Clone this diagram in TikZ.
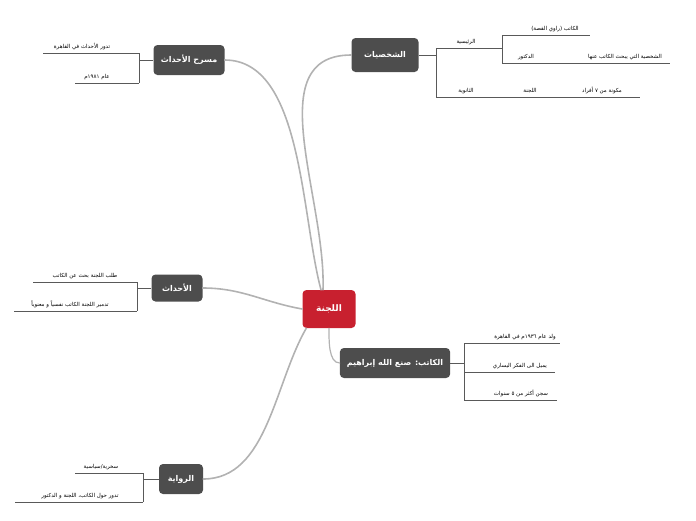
\documentclass[tikz,border=0pt]{standalone}
\usepackage{fontspec}
\setmainfont{DejaVu Sans}
\newfontfamily\arabicfont[Script=Arabic]{DejaVu Sans}
\TeXXeTstate=1
\newcommand{\ar}[1]{\arabicfont\beginR #1\endR}
\definecolor{boxgray}{HTML}{4D4D4D}
\definecolor{cred}{HTML}{C8202F}
\begin{document}
\begin{tikzpicture}[x=1pt,y=-1pt,
  topic/.style={draw=none,fill=boxgray,rounded corners=4pt,text=white,font=\arabicfont\fontsize{8}{9}\selectfont\bfseries,minimum height=28pt,inner xsep=7pt,drop shadow/.try},
  leaf/.style={font=\fontsize{5.5}{6.5}\selectfont,inner sep=1pt,anchor=south},
  ln/.style={draw=gray!70!black,line width=0.6pt},
  br/.style={draw=gray!60,line width=1.6pt,line cap=round}]
\useasboundingbox (0,0) rectangle (696,520);
% center and topics
\node[topic,fill=cred,minimum width=53pt,minimum height=38pt,font=\arabicfont\fontsize{9}{10}\selectfont\bfseries] (c) at (329,309) {\ar{اللجنة}};
\node[topic,minimum width=67pt,minimum height=34pt] (shakh) at (385,55) {\ar{الشخصيات}};
\node[topic,minimum width=71pt,minimum height=30pt] (masrah) at (189,60) {\ar{مسرح الأحداث}};
\node[topic,minimum width=51pt,minimum height=27pt] (ahdath) at (177,288) {\ar{الأحداث}};
\node[topic,minimum width=105pt,minimum height=30pt] (katib) at (395,363) {\ar{الكاتب: صنع الله إبراهيم}};
\node[topic,minimum width=44pt,minimum height=30pt] (riwaya) at (181,479) {\ar{الرواية}};
% main branches
\draw[br] (c.north) ++(-6,0) coordinate (c1) to[out=88,in=180,looseness=1] (shakh.west);
\draw[br] (c.north) ++(-8,0) coordinate (c2) to[out=105,in=0,looseness=0.8] (masrah.east);
\draw[br] (c.west) to[out=170,in=0] (ahdath.east);
\draw[br,line width=1.2pt] (c.south) ++(0,0) coordinate (c3) to[out=-90,in=180,looseness=0.8] (katib.west);
\draw[br] (c.south west) ++(4,0) coordinate (c4) to[out=-120,in=0,looseness=0.9] (riwaya.east);
% Shakhsiyat leaves
\coordinate (s0) at (436,55);
\draw[ln] (shakh.east) -- (s0);
\draw[ln] (436,48) -- (436,97);
\draw[ln] (436,48) -- (502,48);
\draw[ln] (502,35) -- (502,63);
\draw[ln] (502,35) -- (590,35);
\draw[ln] (502,63) -- (670,63);
\draw[ln] (436,97) -- (640,97);
\node[leaf] (s1) at (466,46) {\ar{الرئيسية}};
\node[leaf] (s2) at (555,33) {\ar{الكاتب (راوي القصة)}};
\node[leaf] (s3) at (526,61) {\ar{الدكتور}};
\node[leaf] (s4) at (625,61) {\ar{الشخصية التي يبحث الكاتب عنها}};
\node[leaf] (s5) at (466,95) {\ar{الثانوية}};
\node[leaf] (s6) at (530,95) {\ar{اللجنة}};
\node[leaf] (s7) at (602,95) {\ar{مكونة من ٧ أفراد}};
% Masrah leaves
\draw[ln] (masrah.west) -- (139,60);
\draw[ln] (139,53) -- (139,83);
\draw[ln] (43,53) -- (139,53);
\draw[ln] (75,83) -- (139,83);
\node[leaf] (m1) at (82,51) {\ar{تدور الأحداث في القاهرة}};
\node[leaf] (m2) at (97,81) {\ar{عام ١٩٨١م}};
% Ahdath leaves
\draw[ln] (ahdath.west) -- (137,288);
\draw[ln] (137,282) -- (137,311);
\draw[ln] (33,282) -- (137,282);
\draw[ln] (14,311) -- (137,311);
\node[leaf] (a1) at (85,280) {\ar{طلب اللجنة بحث عن الكاتب}};
\node[leaf] (a2) at (70,309) {\ar{تدمير اللجنة الكاتب نفسياً و  معنوياً}};
% Katib leaves
\draw[ln] (katib.east) -- (464,363);
\draw[ln] (464,343) -- (464,400);
\draw[ln] (464,343) -- (560,343);
\draw[ln] (464,372) -- (555,372);
\draw[ln] (464,400) -- (557,400);
\node[leaf] (k1) at (525,341) {\ar{ولد عام ١٩٣٦م في القاهرة}};
\node[leaf] (k2) at (520,370) {\ar{يميل الى الفكر اليساري}};
\node[leaf] (k3) at (521,398) {\ar{سجن أكثر من ٥ سنوات}};
% Riwaya leaves
\draw[ln] (riwaya.west) -- (143,479);
\draw[ln] (143,473) -- (143,502);
\draw[ln] (75,473) -- (143,473);
\draw[ln] (15,502) -- (143,502);
\node[leaf] (r1) at (101,471) {\ar{سخرية/سياسية}};
\node[leaf] (r2) at (80,500) {\ar{تدور حول الكاتب، اللجنة و الدكتور}};
\end{tikzpicture}
\end{document}
